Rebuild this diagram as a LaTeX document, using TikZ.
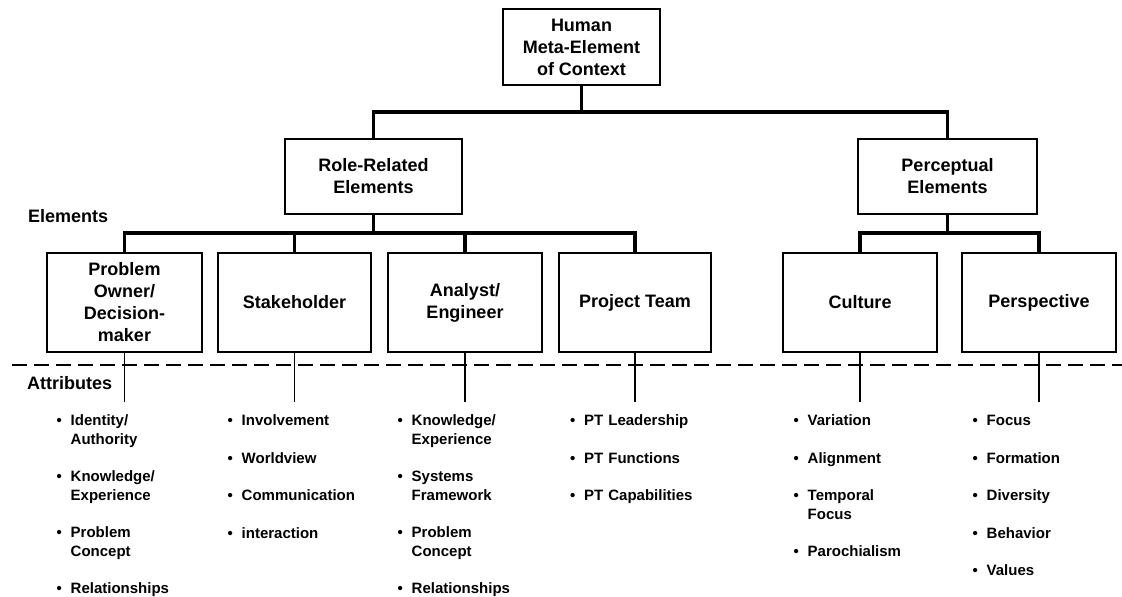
\documentclass[tikz,border=0pt]{standalone}
\usepackage{fontspec}
\setmainfont{Liberation Sans}
\newcommand\boxfont{\fontsize{18}{22}\selectfont\bfseries}
\newcommand\attrfont{\fontsize{15}{18.5}\selectfont\bfseries}
\newcommand\attitem[1]{\par\hangindent=14pt\hangafter=1\noindent\hbox to 14pt{\textbullet\hfil}#1}
\newcommand\attsep{\setlength\parskip{19pt}}
\begin{document}
\begin{tikzpicture}[x=1pt,y=-1pt,
  box/.style={draw, line width=1.3pt, align=center, inner sep=0pt, font=\boxfont},
  lvlbox/.style={box, minimum width=154pt, minimum height=99pt},
  midbox/.style={box, minimum height=75pt},
  bar/.style={line width=3.5pt},
  stem/.style={line width=1.3pt},
  sep/.style={line width=2pt, dash pattern=on 15pt off 7pt},
  attr/.style={anchor=north west, inner sep=0pt, text width=160pt, font=\attrfont},
  lbl/.style={anchor=west, inner sep=0pt, font=\boxfont}]
\useasboundingbox (0,0) rectangle (1122,597);

% boxes
\node[box, minimum width=157pt, minimum height=76pt] (top) at (581.5,47) {Human\\Meta-Element\\of Context};
\node[midbox, minimum width=177pt] (role) at (373.5,176.5) {Role-Related\\Elements};
\node[midbox, minimum width=179pt] (perc) at (947.5,176.5) {Perceptual\\Elements};

\node[lvlbox, minimum width=155pt] (po) at (124.5,302.5) {Problem\\Owner/\\Decision-\\maker};
\node[lvlbox, minimum width=153pt] (sh) at (294.5,302.5) {Stakeholder};
\node[lvlbox] (an) at (465,302.5) {Analyst/\\Engineer};
\node[lvlbox, minimum width=152pt] (pt) at (635,302.5) {Project Team};
\node[lvlbox] (cu) at (860,302.5) {Culture};
\node[lvlbox] (pe) at (1039,302.5) {Perspective};

% labels
\node[lbl] (elab) at (28,216) {Elements};
\node[lbl] (alab) at (27,383) {Attributes};

% junctions
\coordinate (j1) at (581.5,112);
\coordinate (j2) at (373.5,233);
\coordinate (j3) at (947.5,233);
\coordinate (al) at (0,402);
\coordinate (dl) at (12,365);
\coordinate (dr) at (1122,365);

% thick tree connectors
\draw[bar] (top.south) -- (j1);
\draw[bar] (role.north) |- (j1) -| (perc.north);
\draw[bar] (role.south) -- (j2);
\draw[bar] (po.north) |- (j2) -| (pt.north);
\draw[bar] (sh.north) -- (sh.north |- j2);
\draw[bar] (an.north) -- (an.north |- j2);
\draw[bar] (perc.south) -- (j3);
\draw[bar] (cu.north) |- (j3) -| (pe.north);

% separator
\draw[sep] (dl) -- (dr);

% attribute stems
\draw[stem] (po.south) -- (po.south |- al);
\draw[stem] (sh.south) -- (sh.south |- al);
\draw[stem] (an.south) -- (an.south |- al);
\draw[stem] (pt.south) -- (pt.south |- al);
\draw[stem] (cu.south) -- (cu.south |- al);
\draw[stem] (pe.south) -- (pe.south |- al);

% attribute lists
\node[attr] (poatt) at (56.5,407) {%
  \attitem{Identity/\newline Authority}\attsep\attitem{Knowledge/\newline Experience}\attitem{Problem\newline Concept}\attitem{Relationships}\par};
\node[attr] (shatt) at (227.5,407) {%
  \attitem{Involvement}\attsep\attitem{Worldview}\attitem{Communication}\attitem{interaction}\par};
\node[attr] (anatt) at (397.5,407) {%
  \attitem{Knowledge/\newline Experience}\attsep\attitem{Systems\newline Framework}\attitem{Problem\newline Concept}\attitem{Relationships}\par};
\node[attr] (ptatt) at (570,407) {%
  \attitem{PT Leadership}\attsep\attitem{PT Functions}\attitem{PT Capabilities}\par};
\node[attr] (cuatt) at (793.5,407) {%
  \attitem{Variation}\attsep\attitem{Alignment}\attitem{Temporal\newline Focus}\attitem{Parochialism}\par};
\node[attr] (peatt) at (972.5,407) {%
  \attitem{Focus}\attsep\attitem{Formation}\attitem{Diversity}\attitem{Behavior}\attitem{Values}\par};
\end{tikzpicture}
\end{document}
